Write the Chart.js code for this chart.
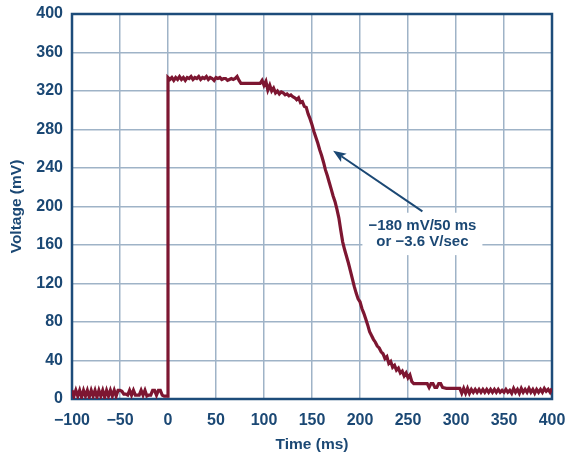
<!DOCTYPE html>
<html>
<head>
<meta charset="utf-8">
<script src="https://cdn.jsdelivr.net/npm/chart.js@4.4.0/dist/chart.umd.min.js"></script>
<style>
  html, body { margin: 0; padding: 0; background: #fff; }
  #chart { display: block; }
</style>
</head>
<body>
<canvas id="chart" width="565" height="453"></canvas>
<script>
// time (ms) and voltage (mV)
const times = [
  -100, -98, -96, -94, -92, -90, -88, -86, -84, -82, -80, -78, -76, -74, -72, -70, -68, -66, -64, -62,
  -60, -58, -56, -54, -52, -50, -48, -46, -44, -42, -40, -38, -36, -34, -32, -30, -28, -26, -24, -22,
  -20, -18, -16, -14, -12, -10, -8, -6, -4, -2, 0,
  0, 2, 4, 6, 8, 10, 12, 14, 16, 18, 20, 22, 24, 26, 28, 30, 32, 34, 36, 38, 40, 42, 44, 46, 48, 50,
  52, 54, 56, 58, 60, 62, 64, 66, 68, 70, 72, 74, 76, 80, 84, 88, 92, 96, 98,
  100, 102, 104, 106, 108, 110, 112, 114, 116, 118, 120, 122, 124, 126, 128, 130, 132, 134, 136, 138,
  140, 142, 144, 146, 148, 150, 152, 154, 156, 158, 160, 162, 164, 166, 168, 170, 172, 174, 176, 178,
  180, 182, 184, 186, 188, 190, 192, 194, 196, 198, 200, 202, 204, 206, 208, 210, 212, 214, 216, 218,
  220, 222, 224, 226, 228, 230, 232, 234, 236, 238, 240, 242, 244, 246, 248, 250, 252, 254, 256, 260,
  265, 270, 272, 274, 276, 278, 280, 282, 284, 286, 290, 300, 304, 306, 308, 310, 312, 314,
  316, 318, 320, 322, 324, 326, 328, 330, 332, 334, 336, 338, 340, 342, 344, 346, 348, 350, 352, 354,
  356, 358, 360, 362, 364, 366, 368, 370, 372, 374, 376, 378, 380, 382, 384, 386, 388, 390, 392, 394,
  396, 398, 400
];
const volts = [
  9, 3, 9, 3, 9, 2, 9, 3, 9, 2, 9, 3, 9, 2, 9, 3, 9, 2, 9, 3,
  9, 3, 9, 3, 9, 9, 8, 5, 5, 4, 9, 4, 9, 4, 4, 4, 9, 4, 9, 3,
  4, 4, 9, 9, 4, 9, 9, 4, 3, 3, 3,
  334, 332, 334, 331, 334, 332, 335, 332, 334, 331, 334, 333, 335, 332, 334, 333, 335, 332, 334, 333, 335, 332, 334, 333, 331, 334,
  333, 334, 332, 333, 333, 331, 332, 333, 332, 333, 335, 331, 328, 328, 328, 328, 328, 328, 331,
  326, 330, 321, 326, 320, 323, 318, 320, 317, 319, 318, 316, 317, 315, 316, 314, 313, 311, 313, 308,
  309, 304, 303, 296, 291, 285, 278, 272, 266, 259, 253, 246, 238, 232, 225, 218, 211, 205, 197, 188,
  175, 163, 155, 148, 141, 133, 125, 117, 110, 104, 101, 94, 89, 83, 77, 70, 66, 62, 59, 55,
  53, 49, 47, 42, 44, 37, 39, 33, 35, 30, 32, 27, 29, 24, 27, 22, 25, 18, 16, 16,
  16, 16, 12, 16, 16, 12, 12, 16, 16, 12, 11, 11, 11, 6, 11, 6, 11, 6,
  10, 7, 10, 7, 10, 7, 10, 7, 10, 7, 10, 7, 10, 7, 10, 7, 9, 7, 10, 7,
  9, 6, 11, 7, 10, 6, 11, 7, 10, 7, 11, 7, 10, 6, 10, 7, 10, 7, 11, 8,
  10, 7, 11
];
const xTicks = [-100, -50, 0, 50, 100, 150, 200, 250, 300, 350, 400];
const yTicks = [0, 40, 80, 120, 160, 200, 240, 280, 320, 360, 400];
const noteLines = ['\u2212180 mV/50 ms', 'or \u22123.6 V/sec'];
// annotation anchors in data units: text centre, arrow tail, arrow head
const notePos = { x: 265, y1: 180, y2: 163 };
const arrowFrom = { x: 265, y: 195 };
const arrowTo = { x: 172, y: 258 };

const navy = '#1b4874';
const frameColor = '#1d4c7a';
const gridColor = '#9fb3c7';
const traceColor = '#7d1631';
const family = '"Liberation Sans", Arial, sans-serif';
const tickFont = { family, size: 16, weight: 'bold' };
const titleFont = { family, size: 15.5, weight: 'bold' };

const points = times.map((t, i) => ({ x: t, y: volts[i] }));

const framePlugin = {
  id: 'frame',
  beforeDatasetsDraw(chart) {
    const { ctx, chartArea: a } = chart;
    ctx.save();
    ctx.strokeStyle = frameColor;
    ctx.lineWidth = 2.5;
    ctx.strokeRect(a.left, a.top, a.right - a.left, a.bottom - a.top);
    ctx.restore();
  }
};

const notePlugin = {
  id: 'note',
  afterDatasetsDraw(chart) {
    const { ctx } = chart;
    const xs = chart.scales.x, ys = chart.scales.y;
    ctx.save();
    ctx.font = 'bold 15px ' + family;
    const cx = xs.getPixelForValue(notePos.x);
    const l1 = ys.getPixelForValue(notePos.y1);
    const l2 = ys.getPixelForValue(notePos.y2);
    const w = Math.max(...noteLines.map(s => ctx.measureText(s).width));
    ctx.fillStyle = '#fff';
    ctx.fillRect(cx - w / 2 - 6, l1 - 13, w + 12, l2 - l1 + 26);

    // arrow
    const x0 = xs.getPixelForValue(arrowFrom.x), y0 = ys.getPixelForValue(arrowFrom.y);
    const x1 = xs.getPixelForValue(arrowTo.x), y1 = ys.getPixelForValue(arrowTo.y);
    const ang = Math.atan2(y1 - y0, x1 - x0);
    const hl = 13, hw = 5;
    const bx = x1 - hl * Math.cos(ang), by = y1 - hl * Math.sin(ang);
    ctx.strokeStyle = navy;
    ctx.lineWidth = 2;
    ctx.beginPath();
    ctx.moveTo(x0, y0);
    ctx.lineTo(bx + 3 * Math.cos(ang), by + 3 * Math.sin(ang));
    ctx.stroke();
    ctx.fillStyle = navy;
    ctx.beginPath();
    ctx.moveTo(x1, y1);
    ctx.lineTo(bx + hw * Math.sin(ang), by - hw * Math.cos(ang));
    ctx.lineTo(bx + 3 * Math.cos(ang), by + 3 * Math.sin(ang));
    ctx.lineTo(bx - hw * Math.sin(ang), by + hw * Math.cos(ang));
    ctx.closePath();
    ctx.fill();

    ctx.fillStyle = navy;
    ctx.textAlign = 'center';
    ctx.textBaseline = 'middle';
    ctx.fillText(noteLines[0], cx, l1);
    ctx.fillText(noteLines[1], cx, l2);
    ctx.restore();
  }
};

new Chart(document.getElementById('chart'), {
  type: 'line',
  data: {
    datasets: [{
      data: points,
      borderColor: traceColor,
      borderWidth: 3.2,
      pointRadius: 0,
      tension: 0,
      fill: false
    }]
  },
  options: {
    responsive: false,
    animation: false,
    devicePixelRatio: 1,
    layout: { padding: { top: 14, right: 13, bottom: 0, left: 0 } },
    plugins: { legend: { display: false }, tooltip: { enabled: false } },
    scales: {
      x: {
        type: 'linear',
        min: -100, max: 400,
        afterBuildTicks: s => { s.ticks = xTicks.map(v => ({ value: v })); },
        afterFit: s => { s.height = 54; s.paddingLeft = 0; s.paddingRight = 0; },
        grid: { color: gridColor, lineWidth: 1.5, drawTicks: false },
        border: { display: false },
        ticks: {
          color: navy, font: tickFont, padding: 12, maxRotation: 0, autoSkip: false,
          callback: v => String(v).replace('-', '\u2212')
        },
        title: { display: true, text: 'Time (ms)', color: navy, font: titleFont, padding: { top: 0, bottom: -1 } }
      },
      y: {
        min: 0, max: 400,
        afterBuildTicks: s => { s.ticks = yTicks.map(v => ({ value: v })); },
        afterFit: s => { s.width = 72; s.paddingTop = 0; s.paddingBottom = 0; },
        grid: { color: gridColor, lineWidth: 1.5, drawTicks: false },
        border: { display: false },
        ticks: { color: navy, font: tickFont, padding: 9, autoSkip: false },
        title: { display: true, text: 'Voltage (mV)', color: navy, font: titleFont, padding: { top: 7, bottom: 0 } }
      }
    }
  },
  plugins: [framePlugin, notePlugin]
});
</script>
</body>
</html>
